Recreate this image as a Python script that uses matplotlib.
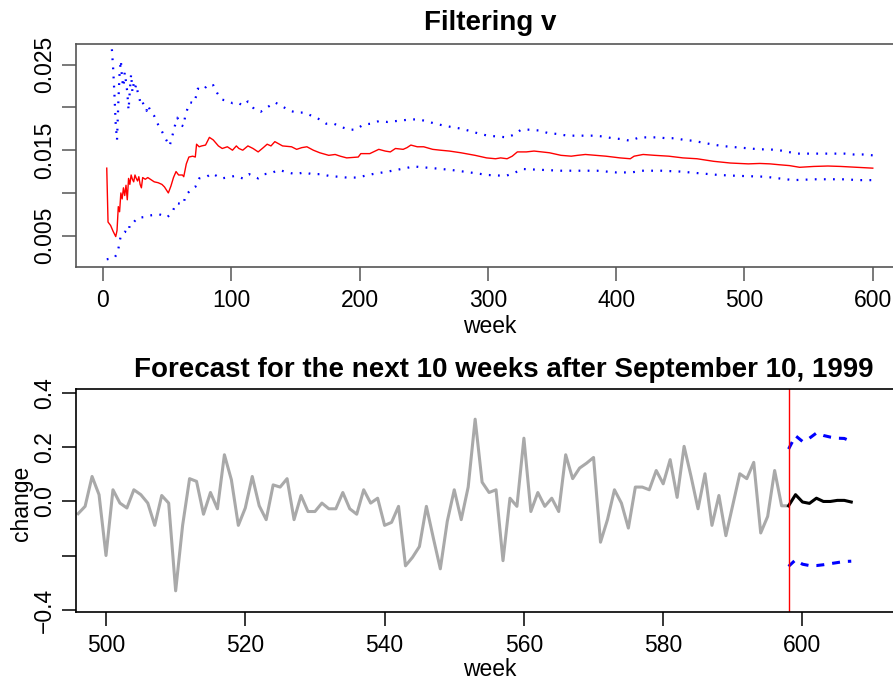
import matplotlib
matplotlib.use("Agg")
import matplotlib.pyplot as plt

plt.rcParams['font.family'] = ['Liberation Sans', 'DejaVu Sans']

# filtered estimate of v (red) and its bounds (blue dotted)
v_week = [3, 4, 6, 8, 9, 10, 11, 12, 13, 14, 15, 16, 17, 18, 19, 20, 21, 22, 23, 24,
          25, 26, 27, 28, 29, 30, 31, 33, 35, 37, 40, 43, 46, 48, 51, 53, 55, 57, 59, 62,
          63, 65, 67, 70, 72, 73, 75, 77, 80, 83, 86, 90, 93, 97, 101, 104, 106, 109, 113, 117,
          121, 125, 128, 131, 134, 140, 147, 151, 155, 159, 164, 169, 176, 181, 185, 190, 199, 201, 208, 215,
          220, 224, 228, 234, 237, 240, 245, 250, 257, 263, 270, 279, 290, 299, 306, 310, 315, 319, 323, 330,
          336, 342, 348, 357, 365, 370, 376, 384, 392, 403, 411, 414, 421, 430, 441, 452, 463, 476, 489, 503,
          512, 520, 527, 535, 543, 554, 565, 575, 587, 600]
v_est = [0.0129, 0.0066, 0.0062, 0.0055, 0.0052, 0.0049, 0.0056, 0.0084, 0.0078, 0.0100,
         0.0093, 0.0106, 0.0097, 0.0109, 0.0092, 0.0117, 0.0110, 0.0121, 0.0116, 0.0113,
         0.0121, 0.0117, 0.0114, 0.0119, 0.0110, 0.0106, 0.0118, 0.0116, 0.0118, 0.0116,
         0.0113, 0.0112, 0.0110, 0.0107, 0.0100, 0.0108, 0.0118, 0.0125, 0.0121, 0.0121,
         0.0119, 0.0134, 0.0142, 0.0143, 0.0142, 0.0157, 0.0154, 0.0155, 0.0156, 0.0165,
         0.0162, 0.0155, 0.0152, 0.0154, 0.0150, 0.0155, 0.0152, 0.0150, 0.0155, 0.0152,
         0.0148, 0.0153, 0.0157, 0.0155, 0.0160, 0.0155, 0.0154, 0.0151, 0.0153, 0.0154,
         0.0150, 0.0147, 0.0144, 0.0145, 0.0143, 0.0141, 0.0142, 0.0146, 0.0146, 0.0151,
         0.0149, 0.0148, 0.0152, 0.0151, 0.0153, 0.0156, 0.0154, 0.0154, 0.0151, 0.0150,
         0.0149, 0.0147, 0.0144, 0.0141, 0.0140, 0.0141, 0.0140, 0.0143, 0.0148, 0.0148,
         0.0149, 0.0148, 0.0147, 0.0144, 0.0143, 0.0144, 0.0145, 0.0144, 0.0143, 0.0141,
         0.0140, 0.0143, 0.0145, 0.0144, 0.0143, 0.0141, 0.0140, 0.0137, 0.0135, 0.0134,
         0.01345, 0.0134, 0.0133, 0.0132, 0.0130, 0.0131, 0.01315, 0.0131, 0.0130, 0.0129]

up_week = [7, 8, 9, 10, 11, 12, 13, 14, 15, 16, 17, 18, 19, 20, 21, 22, 23, 24, 25, 26,
           27, 28, 29, 30, 32, 34, 35, 37, 40, 43, 46, 49, 52, 54, 56, 58, 61, 63, 64, 66,
           68, 71, 73, 74, 78, 82, 86, 89, 93, 97, 101, 105, 109, 113, 118, 123, 127, 131, 134, 140,
           146, 151, 157, 163, 169, 174, 180, 186, 192, 197, 203, 209, 215, 222, 228, 234, 240, 246, 252, 259,
           265, 272, 280, 287, 294, 300, 308, 315, 320, 326, 333, 340, 347, 354, 362, 369, 376, 383, 390, 397,
           404, 411, 418, 425, 432, 439, 446, 453, 460, 467, 474, 482, 489, 497, 504, 512, 519, 527, 534, 541,
           548, 556, 563, 570, 578, 585, 592, 600]
up_val = [0.0268, 0.0245, 0.0215, 0.0180, 0.0162, 0.0205, 0.0240, 0.0255, 0.0232, 0.0224,
          0.0241, 0.0230, 0.0218, 0.0197, 0.0220, 0.0239, 0.0218, 0.0228, 0.0222, 0.0227,
          0.0219, 0.0214, 0.0207, 0.0210, 0.0202, 0.0196, 0.0203, 0.0196, 0.0190, 0.0180,
          0.0172, 0.0163, 0.0155, 0.0166, 0.0178, 0.0188, 0.0179, 0.0178, 0.0189, 0.0199,
          0.0206, 0.0205, 0.0215, 0.0222, 0.0220, 0.0227, 0.0226, 0.0217, 0.0209, 0.0208,
          0.0205, 0.0206, 0.0202, 0.0207, 0.0198, 0.0195, 0.0199, 0.0203, 0.0206, 0.0201,
          0.0196, 0.0194, 0.0194, 0.0190, 0.0186, 0.0181, 0.0181, 0.0177, 0.0174, 0.0174,
          0.0180, 0.0181, 0.0184, 0.0183, 0.0184, 0.0185, 0.0186, 0.0186, 0.0184, 0.0181,
          0.0179, 0.0177, 0.0175, 0.0172, 0.0169, 0.0167, 0.0166, 0.0165, 0.0168, 0.0174,
          0.0174, 0.0173, 0.0170, 0.0169, 0.0167, 0.0167, 0.0167, 0.0167, 0.0166, 0.0164,
          0.0163, 0.0161, 0.0165, 0.0165, 0.0165, 0.0164, 0.0164, 0.0162, 0.0161, 0.0159,
          0.0157, 0.0155, 0.0154, 0.0153, 0.0152, 0.0151, 0.0151, 0.0150, 0.0148, 0.0146,
          0.0146, 0.0146, 0.0146, 0.0146, 0.0146, 0.0145, 0.0145, 0.0144]

lo_week = [3, 9, 11, 12, 13, 14, 17, 20, 21, 24, 27, 34, 38, 44, 50, 54, 57, 63, 64, 68,
           72, 75, 81, 85, 92, 97, 103, 109, 114, 121, 126, 131, 137, 144, 150, 157, 163, 170, 176, 183,
           190, 198, 210, 222, 236, 242, 257, 271, 286, 300, 314, 320, 327, 342, 357, 371, 385, 400, 412, 420,
           435, 450, 465, 480, 495, 516, 538, 556, 576, 590, 600]
lo_val = [0.00224, 0.00241, 0.0029, 0.0034, 0.0043, 0.0050, 0.00547, 0.00535, 0.0064, 0.00657,
          0.0071, 0.0072, 0.0074, 0.0075, 0.00715, 0.0077, 0.0088, 0.0087, 0.0096, 0.0103,
          0.0107, 0.0117, 0.0119, 0.0123, 0.0117, 0.0118, 0.0120, 0.0117, 0.0122, 0.0117,
          0.0122, 0.0123, 0.0127, 0.0124, 0.0122, 0.0124, 0.0122, 0.0122, 0.0120, 0.0119,
          0.0118, 0.0118, 0.0122, 0.0125, 0.0129, 0.0131, 0.0129, 0.0127, 0.0124, 0.0121,
          0.0120, 0.0123, 0.0128, 0.0127, 0.0126, 0.0126, 0.0126, 0.0124, 0.0124, 0.0126,
          0.0126, 0.0125, 0.0123, 0.0121, 0.0120, 0.0119, 0.0115, 0.0116, 0.0116, 0.0115, 0.0115]

# weekly change series and the 10-week forecast
chg_week = list(range(496, 599))
chg_val = [-0.045, -0.018, 0.092, 0.025, -0.199, 0.043, -0.006, -0.024, 0.043, 0.025,
           -0.006, -0.088, 0.022, -0.006, -0.329, -0.088, 0.084, 0.074, -0.047, 0.033,
           -0.027, 0.172, 0.080, -0.088, -0.024, 0.092, -0.016, -0.067, 0.061, 0.053,
           0.084, -0.067, 0.022, -0.037, -0.037, -0.006, -0.027, -0.027, 0.033, -0.027,
           -0.047, 0.043, -0.006, 0.012, -0.088, -0.077, -0.018, -0.237, -0.206, -0.166,
           -0.018, -0.135, -0.248, -0.073, 0.043, -0.067, 0.053, 0.303, 0.071, 0.033,
           0.043, -0.218, 0.012, -0.018, 0.233, -0.037, 0.033, -0.018, 0.012, -0.037,
           0.172, 0.084, 0.123, 0.141, 0.162, -0.150, -0.067, 0.043, -0.006, -0.098,
           0.053, 0.053, 0.043, 0.114, 0.065, 0.154, 0.015, 0.203, 0.092, -0.027,
           0.102, -0.088, 0.022, -0.126, -0.012, 0.102, 0.084, 0.144, -0.116, -0.055,
           0.114, -0.016, -0.016]
fc_week = list(range(598, 608))
fc_val = [-0.016, 0.025, -0.002, -0.007, 0.012, 0.0, 0.0, 0.004, 0.004, -0.002]
fc_upper = [0.193, 0.242, 0.221, 0.233, 0.252, 0.243, 0.237, 0.233, 0.232, 0.221]
fc_lower = [-0.239, -0.215, -0.231, -0.236, -0.236, -0.233, -0.229, -0.225, -0.221, -0.220]
last_week = 598

W, H = 893, 681
fig = plt.figure(figsize=(W / 100, H / 100), dpi=100)

tick_fs = 16.5
title_fs = 20
left_px, right_px = 75.7, 903.7


def frac_box(top_px, bottom_px):
    return [left_px / W, 1 - bottom_px / H, (right_px - left_px) / W, (bottom_px - top_px) / H]


def style_axis(ax, color):
    for s in ax.spines.values():
        s.set_color(color)
        s.set_linewidth(1.2)
    ax.tick_params(axis='both', length=9.9, width=1.1, color=color,
                   labelsize=tick_fs, labelcolor='black')
    ax.tick_params(axis='x', pad=6)
    ax.tick_params(axis='y', pad=4.3, labelrotation=90)
    for lab in ax.get_yticklabels():
        lab.set_va('center')


# ---- top panel ----
ax1 = fig.add_axes(frac_box(44, 267))
ax1.plot(v_week, v_est, color='red', lw=1.0)
dotted = (0, (0.8, 3.3))
ax1.plot(up_week, up_val, color='blue', lw=1.6, ls=dotted)
ax1.plot(lo_week, lo_val, color='blue', lw=1.6, ls=dotted)
ax1.set_xlim(-21.2, 624.1)
ax1.set_ylim(0.00134, 0.02742)
ax1.set_xticks([0, 100, 200, 300, 400, 500, 600])
ax1.set_yticks([0.005, 0.010, 0.015, 0.020, 0.025])
ax1.set_yticklabels(['0.005', '', '0.015', '', '0.025'])
style_axis(ax1, '#555555')

# ---- bottom panel ----
ax2 = fig.add_axes(frac_box(389.3, 612))
ax2.plot(chg_week, chg_val, color='#A9A9A9', lw=2.2)
ax2.plot(fc_week, fc_val, color='black', lw=2.2)
dashed = (0, (2.6, 2.6))
ax2.plot(fc_week, fc_upper, color='blue', lw=2.2, ls=dashed)
ax2.plot(fc_week, fc_lower, color='blue', lw=2.2, ls=dashed)
ax2.axvline(last_week, color='red', lw=1.0)
ax2.set_xlim(495.65, 495.65 + (right_px - left_px) / 6.965)
ax2.set_ylim(-0.407, 0.413)
ax2.set_xticks([500, 520, 540, 560, 580, 600])
ax2.set_yticks([-0.4, -0.2, 0.0, 0.2, 0.4])
ax2.set_yticklabels(['\u22120.4', '', '0.0', '0.2', '0.4'])
style_axis(ax2, 'black')

# titles and axis labels
cx = (left_px + right_px) / 2
fig.text(cx / W, 1 - 30 / H, 'Filtering v', ha='center', va='baseline',
         fontsize=title_fs, fontweight='bold')
fig.text(504 / W, 1 - 377 / H, 'Forecast for the next 10 weeks after September 10, 1999',
         ha='center', va='baseline', fontsize=title_fs, fontweight='bold')
fig.text(cx / W, 1 - 333 / H, 'week', ha='center', va='baseline', fontsize=tick_fs)
fig.text(cx / W, 1 - 676 / H, 'week', ha='center', va='baseline', fontsize=tick_fs)
fig.text(21 / W, 1 - 503 / H, 'change', ha='center', va='center', rotation=90,
         fontsize=tick_fs)

fig.savefig('out.png', dpi=100)
